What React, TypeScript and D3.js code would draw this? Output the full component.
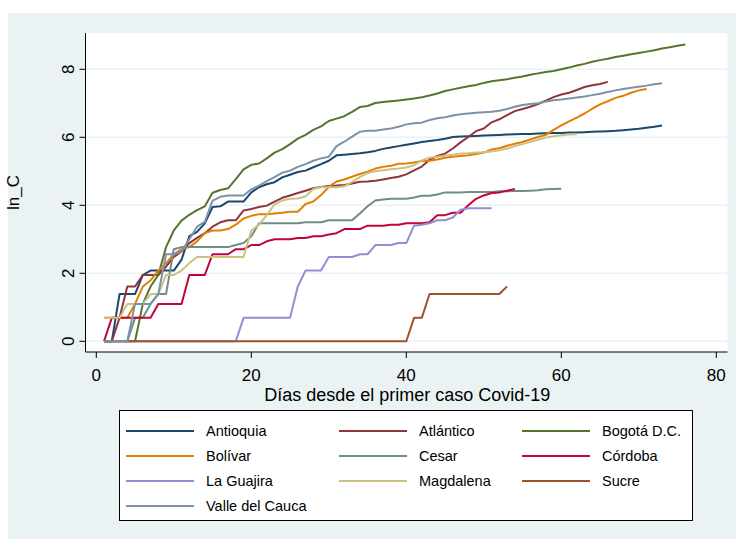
import React from 'react';
import * as d3 from 'd3';

// ln(casos) por departamento, un valor por día desde el día 1
const antioquia = [0,0,1.39,1.39,1.39,1.95,2.08,2.08,2.08,2.08,2.40,3.09,3.22,3.47,3.95,3.97,4.11,4.11,4.11,4.38,4.53,4.62,4.68,4.82,4.90,4.98,5.02,5.12,5.21,5.31,5.47,5.49,5.51,5.53,5.56,5.60,5.66,5.70,5.74,5.78,5.82,5.86,5.89,5.92,5.96,6.01,6.02,6.03,6.04,6.05,6.06,6.07,6.08,6.09,6.10,6.10,6.11,6.12,6.13,6.13,6.14,6.14,6.15,6.16,6.17,6.18,6.19,6.21,6.23,6.25,6.28,6.31,6.35];
const atlantico = [0,0,0.69,1.61,1.61,1.95,1.95,1.95,2.20,2.48,2.64,2.89,3.04,3.18,3.37,3.50,3.56,3.56,3.85,3.89,3.95,3.99,4.11,4.22,4.29,4.36,4.43,4.50,4.54,4.57,4.58,4.60,4.64,4.69,4.70,4.72,4.76,4.80,4.84,4.91,5.03,5.14,5.34,5.45,5.52,5.67,5.85,6.01,6.18,6.26,6.44,6.53,6.65,6.77,6.83,6.90,6.98,7.08,7.18,7.26,7.31,7.39,7.48,7.53,7.57,7.63];
const bogota = [0,0,0,0,0,1.10,1.61,1.95,2.77,3.26,3.55,3.72,3.86,3.97,4.37,4.45,4.50,4.77,5.06,5.19,5.23,5.38,5.55,5.65,5.80,5.96,6.07,6.22,6.32,6.48,6.55,6.62,6.75,6.89,6.92,7.01,7.04,7.06,7.08,7.11,7.14,7.18,7.23,7.29,7.36,7.41,7.46,7.50,7.54,7.60,7.65,7.68,7.71,7.75,7.79,7.84,7.88,7.92,7.95,8.00,8.05,8.11,8.16,8.22,8.27,8.31,8.36,8.40,8.44,8.48,8.52,8.56,8.61,8.65,8.69,8.73];
const bolivar = [0.69,0.69,0.69,0.69,1.10,1.61,1.79,2.08,2.30,2.56,2.71,2.77,2.94,3.18,3.26,3.26,3.30,3.43,3.61,3.69,3.74,3.74,3.76,3.78,3.81,3.81,4.04,4.11,4.30,4.54,4.70,4.76,4.84,4.92,4.99,5.08,5.13,5.16,5.22,5.23,5.26,5.30,5.31,5.35,5.40,5.43,5.45,5.47,5.51,5.55,5.64,5.68,5.75,5.81,5.86,5.94,6.01,6.07,6.22,6.35,6.47,6.58,6.70,6.84,6.97,7.06,7.16,7.22,7.31,7.38,7.42];
const cesar = [0,0,0,0,0.69,0.69,1.10,1.39,1.39,2.71,2.77,2.77,2.77,2.77,2.77,2.77,2.77,2.83,2.89,3.09,3.47,3.47,3.47,3.47,3.47,3.47,3.50,3.50,3.50,3.56,3.56,3.56,3.56,3.76,3.97,4.14,4.17,4.19,4.19,4.19,4.23,4.28,4.28,4.32,4.38,4.38,4.38,4.39,4.39,4.39,4.39,4.41,4.41,4.42,4.42,4.43,4.44,4.47,4.48,4.49];
const cordoba = [0,0.69,0.69,0.69,0.69,0.69,0.69,1.10,1.10,1.10,1.10,1.95,1.95,1.95,2.56,2.56,2.56,2.71,2.71,2.83,2.83,2.94,3.00,3.00,3.00,3.04,3.04,3.09,3.09,3.14,3.18,3.30,3.30,3.30,3.40,3.40,3.40,3.43,3.43,3.47,3.47,3.47,3.50,3.71,3.71,3.78,3.78,4.00,4.19,4.29,4.36,4.38,4.43,4.48];
const laGuajira = [0,0,0,0,0,0,0,0,0,0,0,0,0,0,0,0,0,0,0.69,0.69,0.69,0.69,0.69,0.69,0.69,1.61,2.08,2.08,2.08,2.48,2.48,2.48,2.48,2.56,2.56,2.83,2.83,2.83,2.89,2.89,3.40,3.43,3.47,3.56,3.56,3.64,3.87,3.91,3.91,3.91,3.91];
const magdalena = [0.69,0.69,0.69,1.10,1.10,1.10,1.39,1.39,1.95,1.95,2.08,2.30,2.48,2.48,2.48,2.48,2.48,2.48,2.48,3.26,3.43,3.71,4.03,4.14,4.19,4.20,4.26,4.48,4.53,4.53,4.53,4.56,4.69,4.83,4.95,5.00,5.03,5.06,5.08,5.11,5.18,5.32,5.40,5.43,5.46,5.49,5.52,5.53,5.55,5.56,5.58,5.62,5.67,5.74,5.80,5.87,5.93,5.99,6.03,6.06,6.08,6.09];
const sucre = [0,0,0,0,0,0,0,0,0,0,0,0,0,0,0,0,0,0,0,0,0,0,0,0,0,0,0,0,0,0,0,0,0,0,0,0,0,0,0,0,0.69,0.69,1.39,1.39,1.39,1.39,1.39,1.39,1.39,1.39,1.39,1.39,1.61];
const valle = [0,0,0,0,1.10,1.10,1.10,1.39,2.56,2.56,2.64,3.00,3.37,3.51,4.14,4.25,4.29,4.29,4.29,4.47,4.58,4.71,4.83,4.96,5.02,5.13,5.21,5.31,5.38,5.43,5.74,5.87,6.02,6.16,6.19,6.19,6.23,6.26,6.31,6.38,6.41,6.43,6.51,6.56,6.59,6.64,6.68,6.70,6.72,6.74,6.75,6.78,6.83,6.90,6.95,6.98,7.00,7.05,7.09,7.11,7.14,7.17,7.20,7.24,7.28,7.33,7.38,7.42,7.46,7.49,7.52,7.56,7.59];

const series = [
  { name: 'Antioquia', values: antioquia, color: '#1a476f' },
  { name: 'Atlántico', values: atlantico, color: '#90353b' },
  { name: 'Bogotá D.C.', values: bogota, color: '#55752f' },
  { name: 'Bolívar', values: bolivar, color: '#e37e00' },
  { name: 'Cesar', values: cesar, color: '#6e8e84' },
  { name: 'Córdoba', values: cordoba, color: '#c10534' },
  { name: 'La Guajira', values: laGuajira, color: '#938dd2' },
  { name: 'Magdalena', values: magdalena, color: '#cac27e' },
  { name: 'Sucre', values: sucre, color: '#a0522d' },
  { name: 'Valle del Cauca', values: valle, color: '#7b92a8' },
];

const xTicks = [0, 20, 40, 60, 80];
const yTicks = [0, 2, 4, 6, 8];

const font = 'Arial, "Liberation Sans", Helvetica, sans-serif';

export default function App() {
  const W = 736;
  const H = 539;
  // plot region
  const left = 85.5, right = 727.5, top = 33, bottom = 352;

  const x = d3.scaleLinear().domain([0, 80]).range([96.3, 716.3]);
  const y = d3.scaleLinear().domain([0, 8]).range([341.3, 69.3]);

  const line = d3
    .line<number>()
    .x((_, i) => x(i + 1))
    .y((d) => y(d));

  // legend layout
  const lg = { x: 119.5, y: 410.5, w: 573, h: 110 };
  const colX = [126, 339, 522];
  const rowY = [431, 456, 481, 506];

  return (
    <svg
      width={W}
      height={H}
      style={{ position: 'absolute', left: 0, top: 0 }}
      fontFamily={font}
    >
      <rect x={8} y={13} width={W - 8} height={H - 13} fill="#eaf2f3" />
      <rect x={left} y={top} width={right - left} height={bottom - top} fill="#ffffff" />

      {/* gridlines */}
      {yTicks.map((t) => (
        <line key={'g' + t} x1={left} x2={right} y1={y(t)} y2={y(t)} stroke="#eaf2f3" strokeWidth={1.6} />
      ))}

      {/* series */}
      {series.map((s) => (
        <path
          key={s.name}
          d={line(s.values) || ''}
          fill="none"
          stroke={s.color}
          strokeWidth={2}
          strokeLinejoin="round"
        />
      ))}

      {/* y axis */}
      <line x1={left} x2={left} y1={top} y2={bottom} stroke="#000" strokeWidth={1} />
      {yTicks.map((t) => (
        <g key={'y' + t}>
          <line x1={left - 6} x2={left} y1={y(t)} y2={y(t)} stroke="#000" strokeWidth={1} />
          <text
            transform={`translate(74,${y(t)}) rotate(-90)`}
            textAnchor="middle"
            fontSize={17}
            fill="#000"
          >
            {t}
          </text>
        </g>
      ))}
      <text transform={`translate(19,${(top + bottom) / 2}) rotate(-90)`} textAnchor="middle" fontSize={17} fill="#000">
        ln_C
      </text>

      {/* x axis */}
      <line x1={left} x2={right} y1={bottom} y2={bottom} stroke="#000" strokeWidth={1} />
      {xTicks.map((t) => (
        <g key={'x' + t}>
          <line x1={x(t)} x2={x(t)} y1={bottom} y2={bottom + 6} stroke="#000" strokeWidth={1} />
          <text x={x(t)} y={381} textAnchor="middle" fontSize={17} fill="#000">
            {t}
          </text>
        </g>
      ))}
      <text x={(96.3 + 716.3) / 2 + 1} y={401} textAnchor="middle" fontSize={18} fill="#000">
        Días desde el primer caso Covid-19
      </text>

      {/* legend */}
      <rect x={lg.x} y={lg.y} width={lg.w} height={lg.h} fill="#ffffff" stroke="#000" strokeWidth={1} />
      {series.map((s, i) => {
        const cx = colX[i % 3];
        const cy = rowY[Math.floor(i / 3)];
        return (
          <g key={'l' + s.name}>
            <line x1={cx} x2={cx + 68} y1={cy} y2={cy} stroke={s.color} strokeWidth={2} />
            <text x={cx + 80} y={cy + 5} fontSize={14.5} fill="#000">
              {s.name}
            </text>
          </g>
        );
      })}
    </svg>
  );
}
